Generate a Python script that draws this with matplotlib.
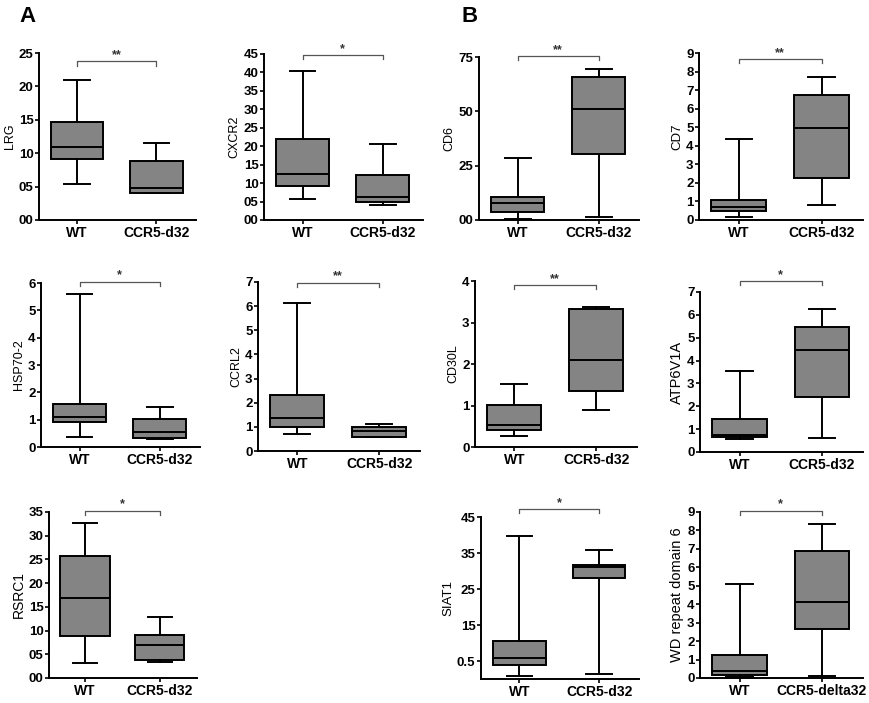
import matplotlib
matplotlib.use("Agg")
import matplotlib.pyplot as plt

plt.rcParams['font.family'] = ['Liberation Sans', 'DejaVu Sans']

# Box statistics: [whislo, q1, med, q3, whishi] for WT and CCR5
genes = ["LRG", "CXCR2", "CD6", "CD7", "HSP70-2", "CCRL2", "CD30L", "ATP6V1A", "RSRC1", "SIAT1", "WD repeat domain 6"]
wt_stats = [
    [0.54, 0.91, 1.09, 1.46, 2.10],
    [0.56, 0.91, 1.24, 2.20, 4.03],
    [0.03, 0.37, 0.79, 1.06, 2.83],
    [0.18, 0.50, 0.72, 1.08, 4.35],
    [0.37, 0.90, 1.09, 1.57, 5.61],
    [0.70, 0.99, 1.38, 2.34, 6.12],
    [0.27, 0.42, 0.52, 1.02, 1.53],
    [0.57, 0.66, 0.76, 1.44, 3.56],
    [0.31, 0.89, 1.68, 2.57, 3.27],
    [0.07, 0.40, 0.58, 1.06, 3.96],
    [0.07, 0.16, 0.36, 1.26, 5.09],
]
ccr5_stats = [
    [0.40, 0.41, 0.475, 0.89, 1.16],
    [0.42, 0.48, 0.61, 1.22, 2.05],
    [0.12, 3.02, 5.13, 6.58, 6.94],
    [0.83, 2.28, 4.98, 6.73, 7.72],
    [0.30, 0.33, 0.55, 1.02, 1.46],
    [0.56, 0.59, 0.83, 1.00, 1.12],
    [0.88, 1.36, 2.10, 3.32, 3.37],
    [0.63, 2.39, 4.48, 5.48, 6.24],
    [0.34, 0.39, 0.69, 0.90, 1.29],
    [0.15, 2.80, 3.11, 3.16, 3.59],
    [0.09, 2.68, 4.14, 6.91, 8.37],
]
group_labels = [["WT", "CCR5-d32"]] * 10 + [["WT", "CCR5-delta32"]]
stars = ["**", "*", "**", "**", "*", "**", "**", "*", "*", "*", "*"]
bracket_y = [2.375, 4.47, 7.53, 8.67, 6.05, 6.96, 3.90, 7.46, 3.53, 4.72, 9.05]

# y ticks and the labels as printed (decimal points lost in the original)
y_ticks = [
    [0, 0.5, 1.0, 1.5, 2.0, 2.5],
    [0, 0.5, 1.0, 1.5, 2.0, 2.5, 3.0, 3.5, 4.0, 4.5],
    [0, 2.5, 5.0, 7.5],
    list(range(0, 10)),
    list(range(0, 7)),
    list(range(0, 8)),
    list(range(0, 5)),
    list(range(0, 8)),
    [0, 0.5, 1.0, 1.5, 2.0, 2.5, 3.0, 3.5],
    [0.5, 1.5, 2.5, 3.5, 4.5],
    list(range(0, 10)),
]
y_ticklabels = [
    ["00", "05", "10", "15", "20", "25"],
    ["00", "05", "10", "15", "20", "25", "30", "35", "40", "45"],
    ["00", "25", "50", "75"],
    [str(v) for v in range(0, 10)],
    [str(v) for v in range(0, 7)],
    [str(v) for v in range(0, 8)],
    [str(v) for v in range(0, 5)],
    [str(v) for v in range(0, 8)],
    ["00", "05", "10", "15", "20", "25", "30", "35"],
    ["0.5", "15", "25", "35", "45"],
    [str(v) for v in range(0, 10)],
]
y_max = [2.5, 4.5, 7.5, 9, 6, 7, 4, 7, 3.5, 4.5, 9]

# panel boxes in pixels: left, right, top, bottom
W, H = 869, 703
panel_px = [
    (39, 196, 53, 220), (264, 423, 54, 220), (479, 639, 57, 220), (699, 863, 53, 220),
    (41, 200, 283, 447), (258, 420, 282, 451), (475, 637, 281, 447), (700, 863, 292, 452),
    (49, 197, 512, 678), (481, 639, 517, 679), (700, 863, 512, 678),
]
label_size = [9, 9, 9, 9.5, 9, 9, 9, 10.5, 10, 9.5, 10.5]

fig = plt.figure(figsize=(W / 100, H / 100), dpi=100)

for i, gene in enumerate(genes):
    l, r, t, b = panel_px[i]
    ax = fig.add_axes([l / W, 1 - b / H, (r - l) / W, (b - t) / H])

    stats = []
    for s, lab in zip([wt_stats[i], ccr5_stats[i]], group_labels[i]):
        stats.append(dict(whislo=s[0], q1=s[1], med=s[2], q3=s[3], whishi=s[4], fliers=[], label=lab))
    ax.bxp(stats, positions=[1, 2], widths=0.66, capwidths=0.32, showfliers=False,
           patch_artist=True,
           boxprops=dict(facecolor="#848484", edgecolor="black", linewidth=1.4),
           medianprops=dict(color="black", linewidth=1.4),
           whiskerprops=dict(color="black", linewidth=1.4),
           capprops=dict(color="black", linewidth=1.4))

    # significance bracket
    by = bracket_y[i]
    d = y_max[i] * 0.025
    ax.plot([1, 1, 2, 2], [by - d, by, by, by - d], color="#555555", lw=0.9, clip_on=False)
    ax.text(1.5, by + d * 0.1, stars[i], ha="center", va="bottom", fontsize=9, fontweight="bold",
            color="#333333", clip_on=False)

    ax.set_xlim(0.52, 2.5)
    ax.set_ylim(0, y_max[i])
    ax.set_yticks(y_ticks[i])
    ax.set_yticklabels(y_ticklabels[i], fontsize=9.5, fontweight="bold")
    ax.set_xticks([1, 2])
    ax.set_xticklabels(group_labels[i], fontsize=10, fontweight="bold")
    ax.tick_params(axis="both", length=3, width=1.2, pad=1)
    ax.set_ylabel(gene, fontsize=label_size[i], labelpad=2,
                  family=["Liberation Sans Narrow", "Liberation Sans", "DejaVu Sans"])

    for side in ["top", "right"]:
        ax.spines[side].set_visible(False)
    for side in ["left", "bottom"]:
        ax.spines[side].set_linewidth(1.4)

fig.text(27 / W, 1 - 17 / H, "A", fontsize=16, fontweight="bold", ha="center", va="center")
fig.text(470 / W, 1 - 17 / H, "B", fontsize=16, fontweight="bold", ha="center", va="center")

plt.savefig("out.png", dpi=100)
plt.close()
